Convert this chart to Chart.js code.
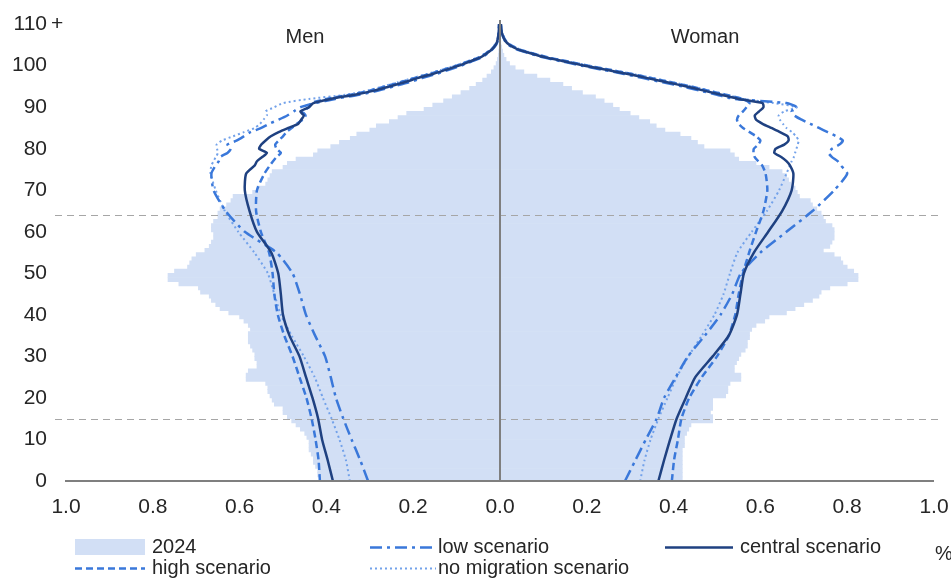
<!DOCTYPE html>
<html>
<head>
<meta charset="utf-8">
<script src="https://cdn.jsdelivr.net/npm/chart.js@4.4.1/dist/chart.umd.min.js"></script>
<style>
html,body{margin:0;padding:0;background:#ffffff;}
#wrap{position:relative;width:951px;height:578px;}
</style>
</head>
<body>
<div id="wrap"><canvas id="c" width="951" height="578"></canvas></div>
<script>
// ---------- DATA ----------
// single-year ages 0..110 (110 = "110 +")
const ages = [0,1,2,3,4,5,6,7,8,9,10,11,12,13,14,15,16,17,18,19,20,21,22,23,24,25,26,27,28,29,
  30,31,32,33,34,35,36,37,38,39,40,41,42,43,44,45,46,47,48,49,50,51,52,53,54,55,56,57,58,59,
  60,61,62,63,64,65,66,67,68,69,70,71,72,73,74,75,76,77,78,79,80,81,82,83,84,85,86,87,88,89,
  90,91,92,93,94,95,96,97,98,99,100,101,102,103,104,105,106,107,108,109,110];

// 2024 population share (%) by single year of age
const men2024 = [0.415,0.42,0.42,0.425,0.43,0.43,0.435,0.44,0.44,0.44,
  0.445,0.45,0.46,0.47,0.48,0.49,0.50,0.50,0.52,0.525,
  0.53,0.535,0.535,0.54,0.585,0.585,0.58,0.56,0.56,0.565,
  0.565,0.57,0.575,0.58,0.58,0.58,0.575,0.58,0.59,0.60,
  0.625,0.645,0.655,0.665,0.67,0.69,0.695,0.74,0.765,0.765,
  0.75,0.72,0.715,0.71,0.70,0.68,0.67,0.665,0.66,0.66,
  0.665,0.665,0.66,0.65,0.65,0.645,0.63,0.62,0.615,0.57,
  0.56,0.54,0.535,0.53,0.525,0.50,0.49,0.47,0.43,0.42,
  0.39,0.37,0.345,0.33,0.30,0.285,0.255,0.235,0.215,0.175,
  0.155,0.13,0.11,0.09,0.07,0.055,0.04,0.03,0.02,0.014,
  0.009,0.006,0.004,0.003,0.002,0.001,0.001,0.001,0.0005,0.0005,0.0005];
const women2024 = [0.42,0.42,0.42,0.42,0.42,0.42,0.42,0.42,0.425,0.425,
  0.425,0.43,0.435,0.44,0.49,0.49,0.485,0.49,0.49,0.49,
  0.52,0.525,0.525,0.53,0.555,0.555,0.54,0.54,0.545,0.55,
  0.555,0.565,0.57,0.57,0.575,0.575,0.58,0.59,0.61,0.62,
  0.66,0.68,0.70,0.72,0.735,0.74,0.76,0.80,0.825,0.825,
  0.815,0.80,0.79,0.785,0.77,0.745,0.76,0.765,0.77,0.77,
  0.77,0.765,0.75,0.745,0.74,0.73,0.72,0.715,0.69,0.685,
  0.68,0.67,0.665,0.66,0.65,0.62,0.59,0.55,0.54,0.53,
  0.47,0.455,0.44,0.415,0.38,0.36,0.345,0.32,0.30,0.275,
  0.26,0.24,0.22,0.19,0.165,0.145,0.115,0.085,0.055,0.035,
  0.022,0.014,0.009,0.006,0.004,0.002,0.001,0.001,0.001,0.0005,0.0005];

// ages at which the projection curves were read
const lineAges = [0,5,10,15,20,25,30,35,40,45,50,55,60,65,70,74,76,77,78,79,80,81,82,83,84,85,86,87,88,89,
  90,91,92,93,94,95,96,97,98,99,100,101,102,103,104,105,106,108,110];

const menCentral = [0.385,0.397,0.41,0.419,0.432,0.447,0.462,0.485,0.50,0.505,0.511,0.527,0.56,0.577,0.588,
  0.585,0.565,0.56,0.548,0.537,0.555,0.55,0.54,0.528,0.51,0.488,0.465,0.458,0.452,0.46,
  0.44,0.43,0.39,0.335,0.29,0.255,0.22,0.19,0.155,0.125,0.095,0.07,0.045,0.03,0.018,0.01,0.006,0.003,0.002];
const menHigh = [0.415,0.418,0.425,0.434,0.446,0.462,0.478,0.497,0.512,0.52,0.524,0.532,0.551,0.562,0.56,
  0.543,0.53,0.523,0.515,0.505,0.515,0.518,0.51,0.50,0.492,0.48,0.468,0.455,0.448,0.455,
  0.44,0.435,0.40,0.345,0.30,0.265,0.23,0.198,0.163,0.132,0.10,0.074,0.048,0.032,0.019,0.011,0.006,0.003,0.002];
const menLow = [0.304,0.322,0.342,0.361,0.378,0.39,0.403,0.426,0.447,0.461,0.478,0.515,0.588,0.632,0.66,
  0.665,0.655,0.648,0.645,0.628,0.62,0.628,0.606,0.59,0.575,0.55,0.532,0.51,0.49,0.475,
  0.46,0.425,0.38,0.325,0.28,0.245,0.21,0.18,0.147,0.118,0.09,0.066,0.042,0.028,0.017,0.009,0.005,0.003,0.002];
const menNoMig = [0.346,0.355,0.37,0.388,0.408,0.427,0.452,0.48,0.505,0.52,0.535,0.566,0.603,0.634,0.655,
  0.667,0.665,0.66,0.655,0.65,0.652,0.653,0.64,0.615,0.59,0.565,0.553,0.545,0.537,0.54,
  0.52,0.50,0.44,0.355,0.305,0.27,0.235,0.202,0.168,0.136,0.104,0.077,0.05,0.034,0.02,0.012,0.007,0.003,0.002];

const womenCentral = [0.365,0.378,0.392,0.407,0.428,0.45,0.49,0.527,0.546,0.554,0.562,0.585,0.618,0.65,0.672,
  0.676,0.668,0.66,0.648,0.632,0.635,0.655,0.665,0.663,0.645,0.625,0.605,0.59,0.587,0.597,
  0.607,0.605,0.55,0.51,0.47,0.43,0.385,0.34,0.295,0.245,0.195,0.15,0.105,0.07,0.04,0.022,0.012,0.004,0.002];
const womenHigh = [0.396,0.401,0.41,0.418,0.436,0.465,0.50,0.527,0.542,0.55,0.56,0.574,0.59,0.607,0.616,
  0.612,0.604,0.595,0.587,0.584,0.585,0.595,0.60,0.59,0.575,0.56,0.55,0.546,0.55,0.56,
  0.568,0.575,0.56,0.52,0.48,0.44,0.395,0.35,0.304,0.254,0.203,0.157,0.11,0.074,0.043,0.024,0.013,0.004,0.002];
const womenLow = [0.288,0.312,0.336,0.361,0.378,0.405,0.433,0.472,0.508,0.535,0.555,0.60,0.66,0.72,0.77,
  0.80,0.785,0.778,0.765,0.757,0.765,0.782,0.79,0.775,0.755,0.735,0.715,0.695,0.678,0.672,
  0.684,0.66,0.54,0.50,0.46,0.42,0.375,0.33,0.286,0.237,0.188,0.144,0.10,0.066,0.037,0.02,0.011,0.004,0.002];
const womenNoMig = [0.323,0.333,0.347,0.365,0.386,0.407,0.434,0.465,0.494,0.515,0.53,0.547,0.58,0.615,0.643,
  0.66,0.668,0.672,0.677,0.68,0.683,0.686,0.688,0.682,0.673,0.66,0.652,0.645,0.642,0.655,
  0.684,0.63,0.56,0.522,0.483,0.443,0.398,0.353,0.307,0.257,0.206,0.159,0.112,0.076,0.044,0.025,0.014,0.005,0.002];

const yTicks = [0,10,20,30,40,50,60,70,80,90,100,110];
const refAges = [15,64];
const sideLabels = ['Men','Woman'];
const unitLabel = '%';

// ---------- STYLE ----------
const FONT = "'Liberation Sans', Arial, sans-serif";
const TXT = '#262626';
const FILL = '#D2DFF5';
const NAVY = '#1F4181';
const BLUE = '#3A78DA';
const LIGHT = '#73A2EA';

Chart.defaults.font.family = FONT;
Chart.defaults.color = TXT;

function pyramid(men, women) {
  return ages.map((a, i) => ({ y: a + 0.5, x: [-men[i], women[i]] }));
}
function curve(vals, sign) {
  return lineAges.map((a, i) => ({ y: a, x: sign * vals[i] }));
}
function lineDs(label, data, color, width, dash, order) {
  return { type: 'line', label, data, indexAxis: 'y', borderColor: color, backgroundColor: color,
    borderWidth: width, borderDash: dash, pointRadius: 0, tension: 0.2, fill: false, order, clip: false };
}

const ds2024 = { type: 'bar', label: '2024', data: pyramid(men2024, women2024), backgroundColor: FILL,
  borderWidth: 0, barPercentage: 1, categoryPercentage: 1, order: 10 };

const datasets = [
  ds2024,
  lineDs('no migration scenario', curve(menNoMig, -1), LIGHT, 2, [2, 3], 5),
  lineDs('no migration scenario', curve(womenNoMig, 1), LIGHT, 2, [2, 3], 5),
  lineDs('low scenario', curve(menLow, -1), BLUE, 2.5, [12, 5, 3, 5], 4),
  lineDs('low scenario', curve(womenLow, 1), BLUE, 2.5, [12, 5, 3, 5], 4),
  lineDs('high scenario', curve(menHigh, -1), BLUE, 2.5, [7, 4], 3),
  lineDs('high scenario', curve(womenHigh, 1), BLUE, 2.5, [7, 4], 3),
  lineDs('central scenario', curve(menCentral, -1), NAVY, 2.5, [], 1),
  lineDs('central scenario', curve(womenCentral, 1), NAVY, 2.5, [], 1)
];

// legend layout (positions only)
const legendItems = [
  { label: '2024', ds: 0, sx: 75, sw: 70, tx: 152, y: 547 },
  { label: 'low scenario', ds: 3, sx: 370, sw: 66, tx: 438, y: 547 },
  { label: 'central scenario', ds: 7, sx: 665, sw: 68, tx: 740, y: 547 },
  { label: 'high scenario', ds: 5, sx: 75, sw: 70, tx: 152, y: 568 },
  { label: 'no migration scenario', ds: 1, sx: 370, sw: 66, tx: 438, y: 568 }
];

const extras = {
  id: 'extras',
  afterDatasetDraw(chart, args) {
    if (args.index !== 0) return;
    const ctx = chart.ctx, ys = chart.scales.y;
    ctx.save();
    ctx.strokeStyle = '#A6A6A6';
    ctx.lineWidth = 1.2;
    ctx.setLineDash([7, 5]);
    refAges.forEach(a => {
      const py = Math.round(ys.getPixelForValue(a)) + 0.5;
      ctx.beginPath(); ctx.moveTo(55, py); ctx.lineTo(943, py); ctx.stroke();
    });
    ctx.restore();
  },
  afterDraw(chart) {
    const ctx = chart.ctx, ys = chart.scales.y;
    ctx.save();
    ctx.fillStyle = TXT;
    ctx.textBaseline = 'middle';
    // "+" of the top age class
    ctx.font = '21px ' + FONT;
    ctx.textAlign = 'left';
    ctx.fillText('+', 51, ys.getPixelForValue(110));
    // side titles
    ctx.font = '20px ' + FONT;
    ctx.textAlign = 'center';
    ctx.fillText(sideLabels[0], 305, 37);
    ctx.fillText(sideLabels[1], 705, 37);
    // unit
    ctx.textAlign = 'left';
    ctx.fillText(unitLabel, 935, 554);
    // legend
    ctx.font = '20px ' + FONT;
    legendItems.forEach(it => {
      const d = chart.data.datasets[it.ds];
      if (d.type === 'bar') {
        ctx.fillStyle = d.backgroundColor;
        ctx.fillRect(it.sx, it.y - 8, it.sw, 16);
      } else {
        ctx.strokeStyle = d.borderColor;
        ctx.lineWidth = d.borderWidth;
        ctx.setLineDash(d.borderDash || []);
        ctx.beginPath(); ctx.moveTo(it.sx, it.y + 0.5); ctx.lineTo(it.sx + it.sw, it.y + 0.5); ctx.stroke();
        ctx.setLineDash([]);
      }
      ctx.fillStyle = TXT;
      ctx.textAlign = 'left';
      ctx.fillText(it.label, it.tx, it.y);
    });
    ctx.restore();
  }
};

new Chart(document.getElementById('c'), {
  type: 'bar',
  data: { datasets },
  plugins: [extras],
  options: {
    responsive: false,
    animation: false,
    devicePixelRatio: 1,
    indexAxis: 'y',
    layout: { padding: { left: 0, right: 17, top: 20, bottom: 60 } },
    plugins: { legend: { display: false }, tooltip: { enabled: false } },
    scales: {
      x: {
        type: 'linear', min: -1, max: 1,
        afterFit: s => { s.height = 37; s.paddingLeft = 0; s.paddingRight = 0; },
        ticks: { stepSize: 0.2, padding: 14, font: { size: 21 }, color: TXT,
          callback: v => Math.abs(v).toFixed(1) },
        grid: { drawTicks: false, z: 1,
          color: c => (c.tick && Math.abs(c.tick.value) < 1e-9) ? '#7F7F7F' : 'rgba(0,0,0,0)',
          lineWidth: c => (c.tick && Math.abs(c.tick.value) < 1e-9) ? 2 : 0 },
        border: { display: true, color: '#7F7F7F', width: 2, z: 1 }
      },
      y: {
        type: 'linear', min: 0, max: 111, offset: false,
        afterFit: s => { s.width = 66; s.paddingTop = 0; s.paddingBottom = 0; },
        afterBuildTicks: s => { s.ticks = yTicks.map(v => ({ value: v })); },
        ticks: { padding: 19, font: { size: 21 }, color: TXT, autoSkip: false,
          callback: v => String(v) },
        grid: { display: false, drawTicks: false, offset: false },
        border: { display: false }
      }
    }
  }
});
</script>
</body>
</html>
